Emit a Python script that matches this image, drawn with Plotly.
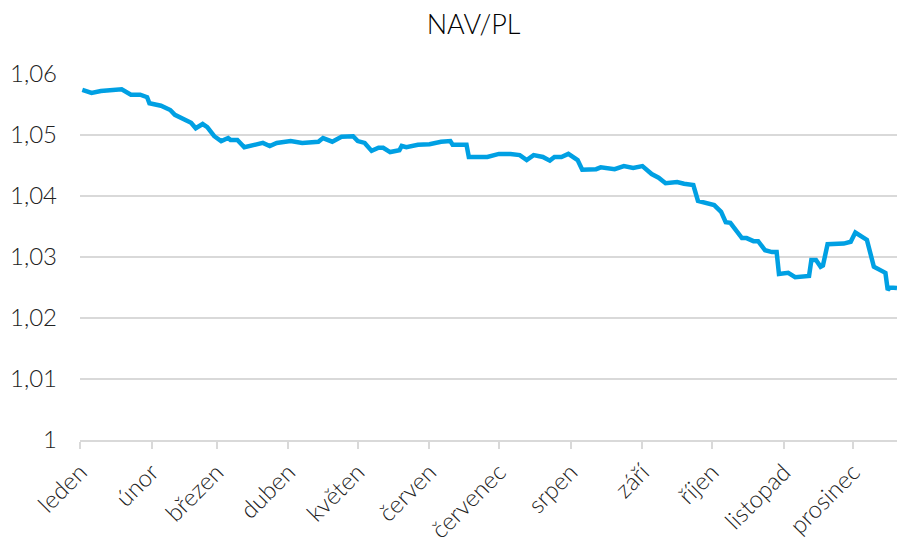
import plotly.graph_objects as go

dates = [
    "2018-01-02", "2018-01-06", "2018-01-10", "2018-01-19", "2018-01-23", "2018-01-27",
    "2018-01-30", "2018-01-31", "2018-02-05", "2018-02-09", "2018-02-11", "2018-02-15",
    "2018-02-18", "2018-02-20", "2018-02-23", "2018-02-25", "2018-02-28", "2018-03-03",
    "2018-03-06", "2018-03-07", "2018-03-10", "2018-03-13", "2018-03-17", "2018-03-21",
    "2018-03-24", "2018-03-27", "2018-04-02", "2018-04-07", "2018-04-14", "2018-04-16",
    "2018-04-20", "2018-04-24", "2018-04-29", "2018-05-01", "2018-05-04", "2018-05-07",
    "2018-05-10", "2018-05-12", "2018-05-15", "2018-05-19", "2018-05-20", "2018-05-22",
    "2018-05-27", "2018-06-01", "2018-06-06", "2018-06-10", "2018-06-11", "2018-06-17",
    "2018-06-18", "2018-06-23", "2018-06-26", "2018-07-01", "2018-07-06", "2018-07-10",
    "2018-07-13", "2018-07-16", "2018-07-20", "2018-07-23", "2018-07-25", "2018-07-28",
    "2018-07-31", "2018-08-04", "2018-08-06", "2018-08-12", "2018-08-14", "2018-08-20",
    "2018-08-24", "2018-08-28", "2018-09-01", "2018-09-05", "2018-09-08", "2018-09-11",
    "2018-09-16", "2018-09-19", "2018-09-23", "2018-09-25", "2018-09-29", "2018-10-02",
    "2018-10-05", "2018-10-07", "2018-10-09", "2018-10-14", "2018-10-16", "2018-10-19",
    "2018-10-21", "2018-10-24", "2018-10-27", "2018-10-29", "2018-10-30", "2018-11-03",
    "2018-11-06", "2018-11-12", "2018-11-13", "2018-11-15", "2018-11-17", "2018-11-18",
    "2018-11-20", "2018-11-25", "2018-11-27", "2018-11-30", "2018-12-02", "2018-12-07",
    "2018-12-08", "2018-12-10", "2018-12-15", "2018-12-16", "2018-12-17", "2018-12-20",
]

nav = [
    1.0574, 1.0569, 1.0572, 1.0575, 1.0566, 1.0566,
    1.0562, 1.0552, 1.0548, 1.0541, 1.0533, 1.0526,
    1.0520, 1.0511, 1.0518, 1.0513, 1.0498, 1.0490,
    1.0495, 1.0492, 1.0492, 1.0480, 1.0484, 1.0487,
    1.0482, 1.0487, 1.0490, 1.0487, 1.0489, 1.0495,
    1.0489, 1.0497, 1.0498, 1.0490, 1.0487, 1.0474,
    1.0479, 1.0479, 1.0472, 1.0475, 1.0482, 1.0480,
    1.0484, 1.0485, 1.0489, 1.0490, 1.0484, 1.0484,
    1.0464, 1.0463, 1.0464, 1.0469, 1.0469, 1.0467,
    1.0459, 1.0467, 1.0464, 1.0458, 1.0464, 1.0464,
    1.0469, 1.0459, 1.0443, 1.0444, 1.0447, 1.0444,
    1.0449, 1.0446, 1.0449, 1.0436, 1.0430, 1.0421,
    1.0423, 1.0420, 1.0418, 1.0392, 1.0388, 1.0385,
    1.0374, 1.0357, 1.0356, 1.0331, 1.0331, 1.0326,
    1.0326, 1.0311, 1.0308, 1.0308, 1.0272, 1.0274,
    1.0267, 1.0269, 1.0295, 1.0295, 1.0284, 1.0286,
    1.0321, 1.0321, 1.0322, 1.0325, 1.0340, 1.0328,
    1.0315, 1.0284, 1.0274, 1.0246, 1.0250, 1.0249,
]

month_starts = [
    "2018-01-01", "2018-02-01", "2018-03-01", "2018-04-01", "2018-05-01", "2018-06-01",
    "2018-07-01", "2018-08-01", "2018-09-01", "2018-10-01", "2018-11-01", "2018-12-01",
]
month_labels = [
    "leden", "únor", "březen", "duben", "květen", "červen",
    "červenec", "srpen", "září", "říjen", "listopad", "prosinec",
]

y_ticks = [1.00, 1.01, 1.02, 1.03, 1.04, 1.05, 1.06]
y_labels = ["1", "1,01", "1,02", "1,03", "1,04", "1,05", "1,06"]

FONT = "Lato, 'Open Sans', sans-serif"

fig = go.Figure()
fig.add_trace(go.Scatter(
    x=dates, y=nav, mode="lines",
    line=dict(color="#00A0E3", width=4.5),
    showlegend=False,
))

fig.update_layout(
    width=897, height=542,
    margin=dict(l=80, r=0, t=74, b=102, autoexpand=False),
    paper_bgcolor="white", plot_bgcolor="white",
    title=dict(text="NAV/PL", x=0.528, xanchor="center", y=0.954, yanchor="middle",
               font=dict(family=FONT, size=27, color="#000000", weight=300)),
    font=dict(family=FONT, size=24, color="#222222"),
    xaxis=dict(
        type="date",
        automargin=False,
        range=["2018-01-01", "2018-12-20"],
        tickvals=month_starts, ticktext=month_labels,
        tickangle=-45,
        ticks="outside", ticklen=7, tickcolor="#D9D9D9", tickwidth=1.5,
        ticklabelstandoff=0,
        showgrid=False,
        showline=True, linecolor="#D9D9D9", linewidth=1.5,
        tickfont=dict(family=FONT, size=24, color="#222222", weight=300),
        zeroline=False,
    ),
    yaxis=dict(
        automargin=False,
        range=[1.0, 1.06],
        tickvals=y_ticks, ticktext=y_labels,
        showgrid=True, gridcolor="#D9D9D9", gridwidth=1.5,
        showline=False, zeroline=False,
        ticks="", ticklabelstandoff=22,
        tickfont=dict(family=FONT, size=24, color="#222222", weight=300),
    ),
)

fig.write_html("out.html", config={"displayModeBar": False},
               post_script="document.body.style.margin='0';")
